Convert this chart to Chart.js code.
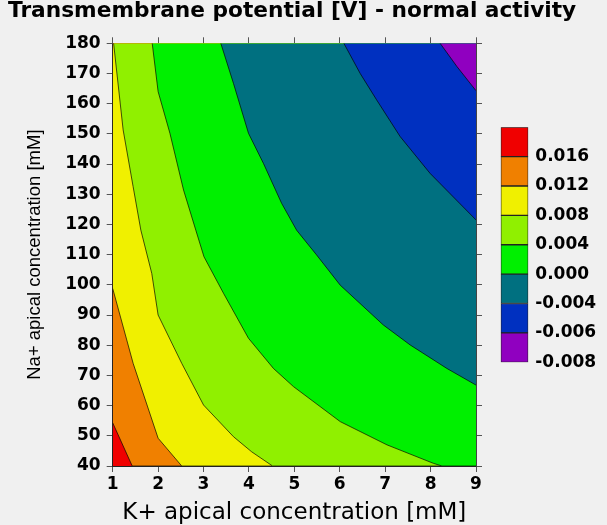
<!DOCTYPE html>
<html lang="en">
<head>
    <meta charset="UTF-8">
    <title>Transmembrane potential - normal activity</title>
    <style>
        body {
            margin: 0;
            padding: 0;
            background-color: #f0f0f0;
        }
        #wrap {
            position: relative;
            width: 607px;
            height: 525px;
        }
        #mainChart {
            position: absolute;
            left: 0;
            top: 0;
        }
        #barChart {
            position: absolute;
            left: 480px;
            top: 110px;
        }
    </style>
</head>
<body>
    <div id="wrap">
        <canvas id="mainChart" width="607" height="525"></canvas>
        <canvas id="barChart" width="127" height="270"></canvas>
    </div>

    <script src="https://cdn.jsdelivr.net/npm/chart.js"></script>
    <script>
        // axis ranges and ticks
        const kRange = [1, 9];
        const naRange = [40, 180];
        const kStep = 1;
        const naStep = 10;

        // contour levels (low -> high) and their fill colours
        const levelLabels = ['-0.008', '-0.006', '-0.004', '0.000', '0.004', '0.008', '0.012', '0.016'];
        const levelColors = ['#9000c0', '#0030c0', '#007080', '#00f000', '#90f000', '#f0f000', '#f08000', '#f00000'];

        // contour boundaries, [K+ mM, Na+ mM]
        const lineRedOrange = [[1, 54.3], [1.43, 40]];
        const lineOrangeYellow = [[1, 98.8], [1.45, 74], [2.0, 49.2], [2.52, 40]];
        const lineYellowLime = [[1.02, 180], [1.23, 151.3], [1.45, 132.5], [1.62, 118.1], [1.86, 103.8],
            [2.0, 90], [2.52, 74], [3.0, 60.2], [3.66, 49.7], [4.06, 44.7], [4.52, 40]];
        const lineLimeGreen = [[1.87, 180], [2.0, 164], [2.26, 150.2], [2.56, 131.4], [2.83, 118.1],
            [3.01, 109.3], [3.44, 97.2], [3.99, 82.3], [4.54, 72.3], [4.98, 66.3], [6.01, 54.7],
            [7.04, 47], [8.06, 40.9], [8.25, 40]];
        const lineGreenTeal = [[3.38, 180], [3.66, 166.7], [3.99, 150.2], [4.32, 140.2], [4.72, 127],
            [5.05, 118.1], [5.49, 109.9], [6.01, 99.9], [6.96, 86.7], [7.55, 80.1], [8.36, 72.3], [9, 66.8]];
        const lineTealBlue = [[6.09, 180], [6.45, 170], [6.81, 161.3], [7.33, 149.1], [7.99, 136.9], [9, 121.5]];
        const lineBluePurple = [[8.21, 180], [8.58, 172.3], [9, 164.3]];

        // boundaries from the top-right corner down, with the colour above each one
        const boundaries = [lineBluePurple, lineTealBlue, lineGreenTeal, lineLimeGreen,
            lineYellowLime, lineOrangeYellow, lineRedOrange];

        const fontTick = { family: 'DejaVu Sans', size: 17, weight: 'bold' };

        // turn a boundary into points; if it ends on the bottom edge, run it along to the right edge
        function toPoints(line) {
            const pts = line.map(p => ({ x: p[0], y: p[1] }));
            const last = line[line.length - 1];
            if (last[0] < kRange[1]) pts.push({ x: kRange[1], y: naRange[0] });
            return pts;
        }

        const datasets = boundaries.map((line, i) => ({
            data: toPoints(line),
            fill: 'end',
            backgroundColor: levelColors[i],
            borderColor: 'rgba(0,0,0,0.85)',
            borderWidth: 0.8,
            pointRadius: 0,
            tension: 0
        }));
        // lowest level fills the whole plot underneath
        datasets.push({
            data: [{ x: kRange[0], y: naRange[0] }, { x: kRange[1], y: naRange[0] }],
            fill: 'end',
            backgroundColor: levelColors[levelColors.length - 1],
            borderWidth: 0,
            pointRadius: 0
        });

        const frameTicks = { color: '#555', tickLength: 6, drawOnChartArea: false };

        new Chart(document.getElementById('mainChart'), {
            type: 'line',
            data: { datasets: datasets },
            options: {
                responsive: false,
                animation: false,
                layout: { padding: { left: 8, right: 0, top: 0, bottom: 0 } },
                plugins: {
                    legend: { display: false },
                    tooltip: { enabled: false },
                    title: {
                        display: true,
                        text: 'Transmembrane potential [V] - normal activity',
                        align: 'start',
                        color: '#000',
                        font: { family: 'DejaVu Sans', size: 21.7, weight: 'bold', lineHeight: 1.05 },
                        padding: { top: 0, bottom: 0 }
                    }
                },
                scales: {
                    x: {
                        type: 'linear',
                        min: kRange[0], max: kRange[1],
                        ticks: { stepSize: kStep, color: '#000', font: fontTick, padding: 2 },
                        grid: frameTicks,
                        border: { color: '#222' },
                        title: {
                            display: true,
                            text: 'K+ apical concentration [mM]',
                            color: '#000',
                            font: { family: 'DejaVu Sans', size: 23, lineHeight: 1.05 },
                            padding: { top: 0, bottom: 0 }
                        },
                        afterFit: s => { s.height = 59; }
                    },
                    y: {
                        min: naRange[0], max: naRange[1],
                        ticks: { stepSize: naStep, color: '#000', font: fontTick, padding: 6 },
                        grid: frameTicks,
                        border: { color: '#222' },
                        title: {
                            display: true,
                            text: 'Na+ apical concentration [mM]',
                            color: '#000',
                            font: { family: 'Liberation Sans', size: 18.5 },
                            padding: { top: 15.9, bottom: 0 }
                        },
                        afterFit: s => { s.width = 104.7; }
                    },
                    x2: {
                        type: 'linear',
                        position: 'top',
                        min: kRange[0], max: kRange[1],
                        ticks: { stepSize: kStep, display: false },
                        grid: frameTicks,
                        border: { color: '#444' },
                        afterFit: s => { s.height = 20.5; }
                    },
                    y2: {
                        position: 'right',
                        min: naRange[0], max: naRange[1],
                        ticks: { stepSize: naStep, display: false },
                        grid: frameTicks,
                        border: { color: '#444' },
                        afterFit: s => { s.width = 131; }
                    }
                }
            }
        });

        // colour bar
        const barTicks = levelLabels.concat(['']);
        new Chart(document.getElementById('barChart'), {
            type: 'bar',
            data: {
                labels: [''],
                datasets: levelColors.map(c => ({
                    data: [1],
                    backgroundColor: c,
                    borderColor: '#222',
                    borderWidth: 1,
                    borderSkipped: false,
                    barPercentage: 1,
                    categoryPercentage: 1
                }))
            },
            options: {
                responsive: false,
                animation: false,
                layout: { padding: { left: 20.7, right: 0, top: 13, bottom: 17.7 } },
                plugins: { legend: { display: false }, tooltip: { enabled: false } },
                scales: {
                    x: { stacked: true, display: false },
                    y: {
                        stacked: true,
                        position: 'right',
                        min: 0, max: levelLabels.length,
                        ticks: {
                            stepSize: 1,
                            color: '#000',
                            font: fontTick,
                            padding: 7,
                            callback: v => barTicks[v]
                        },
                        grid: { display: false, drawTicks: false },
                        border: { display: false },
                        afterFit: s => { s.width = 78.7; }
                    }
                }
            }
        });
    </script>
</body>
</html>
